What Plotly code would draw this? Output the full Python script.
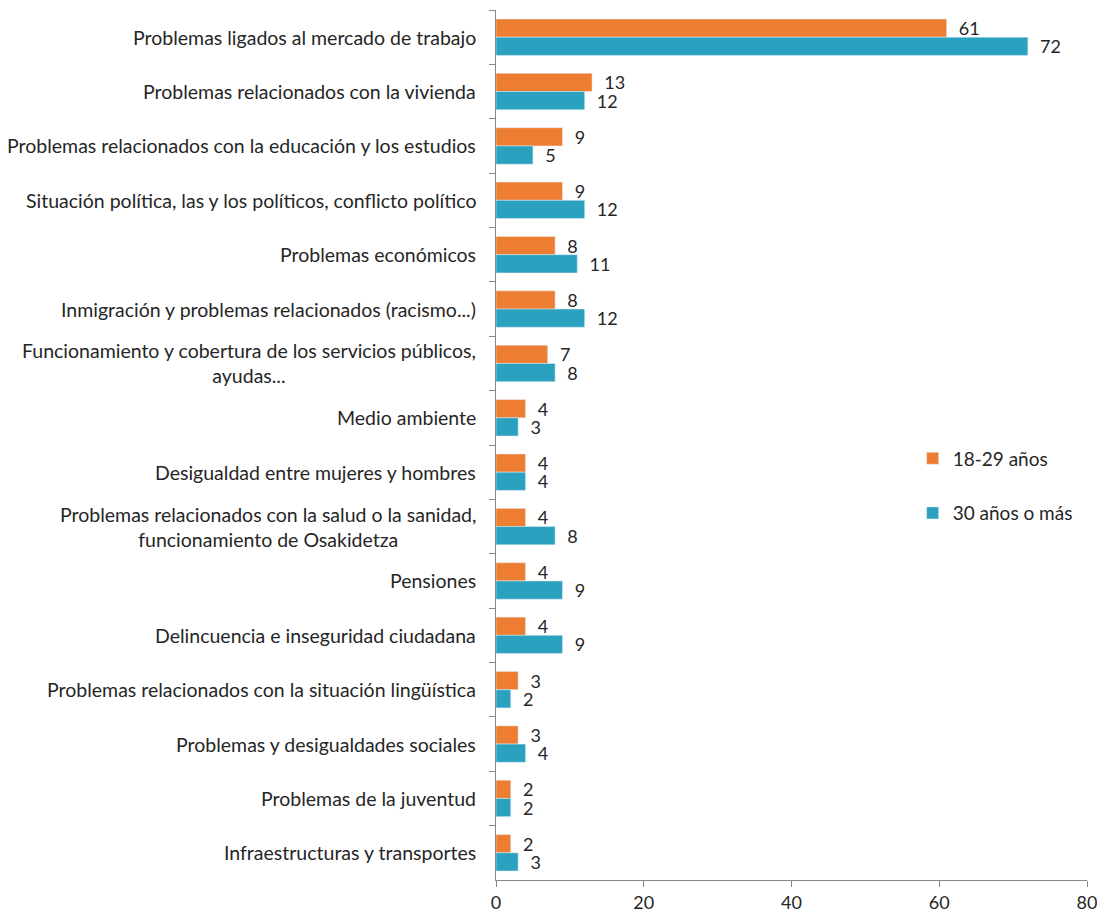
import plotly.graph_objects as go

categories = [
    "Problemas ligados al mercado de trabajo",
    "Problemas relacionados con la vivienda",
    "Problemas relacionados con la educación y los estudios",
    "Situación política, las y los políticos, conflicto político",
    "Problemas económicos",
    "Inmigración y problemas relacionados (racismo...)",
    "Funcionamiento y cobertura de los servicios públicos,<br>ayudas...",
    "Medio ambiente",
    "Desigualdad entre mujeres y hombres",
    "Problemas relacionados con la salud o la sanidad,<br>funcionamiento de Osakidetza",
    "Pensiones",
    "Delincuencia e inseguridad ciudadana",
    "Problemas relacionados con la situación lingüística",
    "Problemas y desigualdades sociales",
    "Problemas de la juventud",
    "Infraestructuras y transportes",
]
young = [61, 13, 9, 9, 8, 8, 7, 4, 4, 4, 4, 4, 3, 3, 2, 2]
older = [72, 12, 5, 12, 11, 12, 8, 3, 4, 8, 9, 9, 2, 4, 2, 3]
series_names = ["18-29 años", "30 años o más"]
x_ticks = [0, 20, 40, 60, 80]

FONT = "Lato"
TXT = "#262626"
NB = "\u00a0"

fig = go.Figure()
for name, vals, col in [(series_names[0], young, "#ED7D31"), (series_names[1], older, "#2AA2BF")]:
    fig.add_trace(go.Bar(
        y=categories, x=vals, name=name, orientation="h",
        marker=dict(color=col),
        text=[NB * 2 + str(v) for v in vals], textposition="outside",
        constraintext="none",
        textfont=dict(family=FONT, size=18, color=TXT),
        cliponaxis=False, legendgroup=name,
    ))

for c in categories:
    fig.add_annotation(
        x=0, xref="paper", y=c, yref="y", text=c, showarrow=False,
        xanchor="right", align="center", xshift=-18,
        font=dict(family=FONT, size=19.5, color=TXT),
    )

fig.update_layout(
    width=1097, height=909,
    margin=dict(l=488, r=18, t=2, b=37),
    paper_bgcolor="white", plot_bgcolor="white",
    barmode="group", bargap=0.33, bargroupgap=0,
    showlegend=True,
    legend=dict(x=0.705, y=0.453, xanchor="left", yanchor="middle",
                font=dict(family=FONT, size=19, color=TXT),
                traceorder="grouped", tracegroupgap=27,
                bgcolor="rgba(0,0,0,0)"),
    font=dict(family=FONT, color=TXT),
)
fig.update_yaxes(
    categoryorder="array", categoryarray=categories, autorange="reversed",
    showticklabels=False, showline=True, linecolor="#888888", linewidth=1,
    ticks="outside", ticklen=6, tickcolor="#888888", tickson="boundaries",
    showgrid=False, zeroline=False,
)
fig.update_xaxes(
    range=[0, 80], tickvals=x_ticks, ticktext=[str(t) for t in x_ticks],
    showline=True, linecolor="#888888", linewidth=1,
    ticks="outside", ticklen=6, tickcolor="#888888",
    showgrid=False, zeroline=False,
    tickfont=dict(family=FONT, size=18, color=TXT),
)

fig.write_html("out.html")
